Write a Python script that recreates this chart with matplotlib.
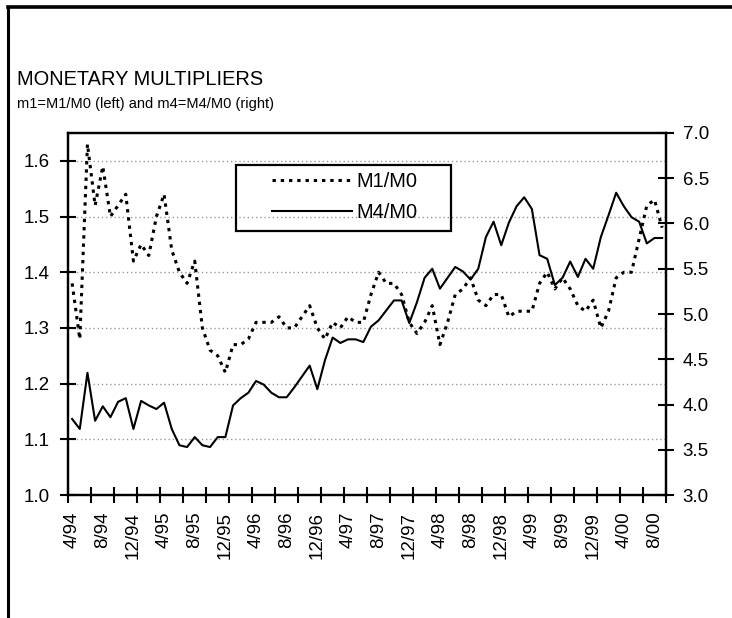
import matplotlib
matplotlib.use("Agg")
import matplotlib.pyplot as plt
from matplotlib.lines import Line2D
from matplotlib.patches import Rectangle

plt.rcParams['font.family'] = ['Liberation Sans', 'DejaVu Sans']

# monthly data, 4/94 .. 9/00
m1 = [1.38, 1.28, 1.63, 1.52, 1.59, 1.50, 1.52, 1.54, 1.42, 1.45,
      1.43, 1.50, 1.54, 1.44, 1.40, 1.38, 1.42, 1.30, 1.26, 1.25,
      1.22, 1.27, 1.27, 1.28, 1.31, 1.31, 1.31, 1.32, 1.30, 1.30,
      1.32, 1.34, 1.30, 1.28, 1.31, 1.30, 1.32, 1.31, 1.31, 1.36,
      1.40, 1.38, 1.38, 1.36, 1.31, 1.29, 1.31, 1.34, 1.27, 1.31,
      1.36, 1.37, 1.39, 1.35, 1.34, 1.36, 1.36, 1.32, 1.33, 1.33,
      1.33, 1.38, 1.40, 1.37, 1.39, 1.37, 1.34, 1.33, 1.35, 1.30,
      1.33, 1.39, 1.40, 1.40, 1.46, 1.52, 1.53, 1.48]

m4 = [3.84, 3.73, 4.35, 3.82, 3.98, 3.86, 4.03, 4.07, 3.73, 4.04,
      3.99, 3.95, 4.02, 3.73, 3.55, 3.53, 3.64, 3.55, 3.53, 3.64,
      3.64, 3.99, 4.07, 4.13, 4.26, 4.22, 4.13, 4.08, 4.08, 4.19,
      4.31, 4.43, 4.17, 4.49, 4.74, 4.68, 4.72, 4.72, 4.69, 4.86,
      4.93, 5.04, 5.15, 5.15, 4.90, 5.13, 5.40, 5.50, 5.28, 5.40,
      5.52, 5.47, 5.38, 5.50, 5.85, 6.02, 5.76, 6.01, 6.19, 6.29,
      6.16, 5.65, 5.61, 5.32, 5.40, 5.58, 5.41, 5.61, 5.50, 5.85,
      6.09, 6.34, 6.19, 6.07, 6.02, 5.78, 5.84, 5.84]

tick_labels = ['4/94', '8/94', '12/94', '4/95', '8/95', '12/95', '4/96',
               '8/96', '12/96', '4/97', '8/97', '12/97', '4/98', '8/98',
               '12/98', '4/99', '8/99', '12/99', '4/00', '8/00']

# categories sit between the tick marks
x = [i + 0.5 for i in range(len(m1))]

fig = plt.figure(figsize=(7.32, 6.18), dpi=100)
ax = fig.add_axes([0.0933, 0.199, 0.8165, 0.5858])
ax2 = ax.twinx()

ax.plot(x, m1, color='black', lw=2.2, linestyle=(0, (1.1, 1.6)),
        dash_capstyle='butt', label='M1/M0', zorder=3)
ax2.plot(x, m4, color='black', lw=1.5, label='M4/M0', zorder=3)

ax.set_xlim(0, len(m1))
ax.set_ylim(1.0, 1.65)
ax2.set_ylim(3.0, 7.0)

left_ticks = [1.0, 1.1, 1.2, 1.3, 1.4, 1.5, 1.6]
ax.set_yticks(left_ticks)
ax.set_yticklabels(['%.1f' % v for v in left_ticks])
right_ticks = [3.0, 3.5, 4.0, 4.5, 5.0, 5.5, 6.0, 6.5, 7.0]
ax2.set_yticks(right_ticks)
ax2.set_yticklabels(['%.1f' % v for v in right_ticks])

# labels every 4 months, tick marks every 3 months
ax.set_xticks([4 * k + 0.5 for k in range(len(tick_labels))])
ax.set_xticklabels(tick_labels, rotation=90)
ax.set_xticks(range(0, len(m1) + 1, 3), minor=True)

ax.tick_params(axis='x', which='major', length=0, pad=12, labelsize=13.5)
ax.tick_params(axis='x', which='minor', direction='inout', length=12, width=1.5)
ax.tick_params(axis='y', direction='inout', length=12, width=1.5, pad=7.5, labelsize=13.5)
ax2.tick_params(axis='y', direction='inout', length=12, width=1.5, pad=6, labelsize=13.5)

for a in (ax, ax2):
    for s in a.spines.values():
        s.set_linewidth(1.6)

for v in left_ticks[1:]:
    ax.axhline(v, color='#999999', lw=1, linestyle=(0, (1, 2)), zorder=1)

# legend
h1 = Line2D([], [], color='black', lw=2.2, linestyle=(0, (1.1, 1.6)), dash_capstyle='butt')
h2 = Line2D([], [], color='black', lw=1.5)
leg = ax2.legend([h1, h2], ['M1/M0', 'M4/M0'], loc='upper left',
                 bbox_to_anchor=(0.341, 0.892), frameon=False, fontsize=14.4,
                 handlelength=4.0, handletextpad=0.2, labelspacing=0.6,
                 borderpad=0, borderaxespad=0)
ax2.add_patch(Rectangle((0.281, 0.729), 0.359, 0.183, transform=ax2.transAxes,
                        fill=False, edgecolor='black', lw=1.6, zorder=4))

fig.text(0.023, 0.8625, 'MONETARY MULTIPLIERS', fontsize=14.4, va='baseline')
fig.text(0.023, 0.8252, 'm1=M1/M0 (left) and m4=M4/M0 (right)', fontsize=10.5,
         va='baseline')

# outer frame (left and top edges)
fig.add_artist(Line2D([0.011, 0.011], [0.0, 0.989], transform=fig.transFigure,
                      color='black', lw=2.2))
fig.add_artist(Line2D([0.011, 1.0], [0.989, 0.989], transform=fig.transFigure,
                      color='black', lw=2.6))

fig.savefig('out.png', dpi=100)
